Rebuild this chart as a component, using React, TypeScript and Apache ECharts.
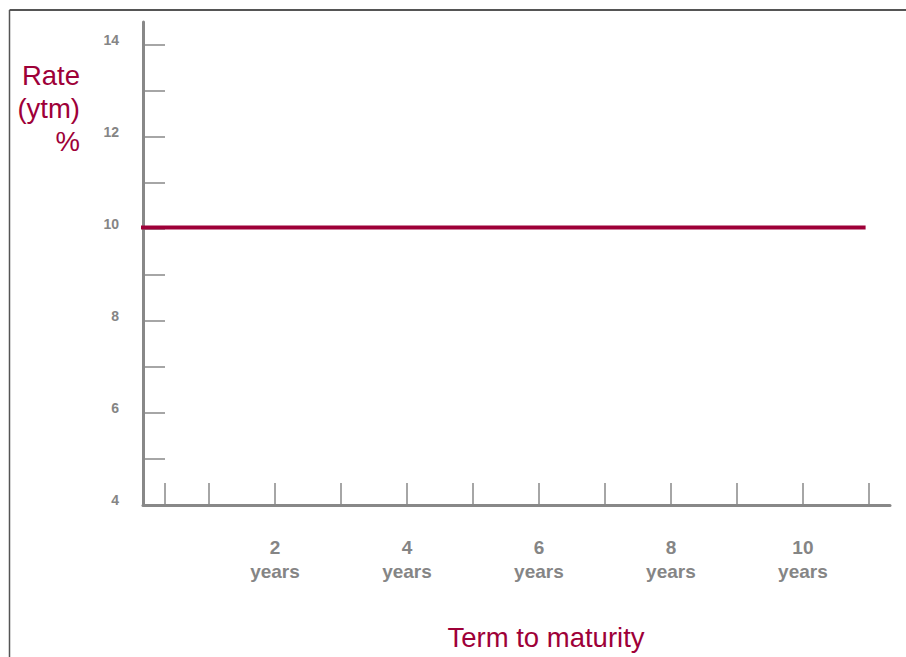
import React, { useEffect, useRef } from "react";
import * as echarts from "echarts";

const yieldTerms = [0, 10.92];
const yieldRates = [10.03, 10.03];
const xTickValues = [0.33, 1, 2, 3, 4, 5, 6, 7, 8, 9, 10, 11];
const xLabelValues = [2, 4, 6, 8, 10];
const yTickValues = [5, 6, 7, 8, 9, 10, 11, 12, 13, 14];
const yLabelValues = [4, 6, 8, 10, 12, 14];
const yTitleLines = ["Rate", "(ytm)", "%"];
const xTitle = "Term to maturity";
const xUnit = "years";

const CRIMSON = "#9E0038";
const GREY = "#888888";
const LABEL_GREY = "#858585";
const FONT = "'Liberation Sans', Arial, Helvetica, sans-serif";

export default function App() {
  const ref = useRef<HTMLDivElement>(null);

  useEffect(() => {
    if (!ref.current) return;
    const chart = echarts.init(ref.current, null, { renderer: "svg" });
    const data = yieldTerms.map((t, i) => [t, yieldRates[i]]);
    chart.setOption({
      animation: false,
      backgroundColor: "#ffffff",
      grid: { left: 143, right: 16, top: 22, bottom: 152, containLabel: false },
      xAxis: {
        type: "value",
        min: 0,
        max: 11.32,
        interval: 1,
        splitLine: { show: false },
        axisLine: { show: true, lineStyle: { color: GREY, width: 3 } },
        axisTick: {
          show: true,
          inside: true,
          length: 22,
          customValues: xTickValues,
          lineStyle: { color: GREY, width: 1.5 },
        },
        axisLabel: {
          show: true,
          customValues: xLabelValues,
          margin: 30,
          color: LABEL_GREY,
          fontFamily: FONT,
          fontWeight: "bold",
          fontSize: 19,
          lineHeight: 24,
          verticalAlign: "top",
          formatter: (v: number) => `${v}\n${xUnit}`,
        },
      },
      yAxis: {
        type: "value",
        min: 4,
        max: 14.5,
        interval: 1,
        splitLine: { show: false },
        axisLine: { show: true, lineStyle: { color: GREY, width: 3 } },
        axisTick: {
          show: true,
          inside: true,
          length: 22,
          customValues: yTickValues,
          lineStyle: { color: GREY, width: 1.5 },
        },
        axisLabel: {
          show: true,
          customValues: yLabelValues,
          margin: 24,
          color: LABEL_GREY,
          fontFamily: FONT,
          fontWeight: "bold",
          fontSize: 14,
          lineHeight: 11,
          verticalAlign: "bottom",
        },
      },
      series: [
        {
          type: "line",
          data,
          symbol: "none",
          lineStyle: { color: CRIMSON, width: 4, cap: "square" },
          silent: true,
        },
      ],
      graphic: [
        {
          type: "line",
          shape: { x1: 9.5, y1: 10, x2: 906, y2: 10 },
          style: { stroke: "#555555", lineWidth: 2 },
        },
        {
          type: "line",
          shape: { x1: 9.5, y1: 10, x2: 9.5, y2: 657 },
          style: { stroke: "#555555", lineWidth: 1.5 },
        },
        ...yTitleLines.map((t, i) => ({
          type: "text",
          x: 80,
          y: 75 + i * 33,
          style: {
            text: t,
            fill: CRIMSON,
            font: `27.5px ${FONT}`,
            textAlign: "right",
            textVerticalAlign: "middle",
          },
        })),
        {
          type: "text",
          x: 546,
          y: 637,
          style: {
            text: xTitle,
            fill: CRIMSON,
            font: `27.5px ${FONT}`,
            textAlign: "center",
            textVerticalAlign: "middle",
          },
        },
      ],
    });
    return () => chart.dispose();
  }, []);

  return (
    <div
      ref={ref}
      style={{ position: "fixed", left: 0, top: 0, width: 906, height: 657 }}
    />
  );
}
